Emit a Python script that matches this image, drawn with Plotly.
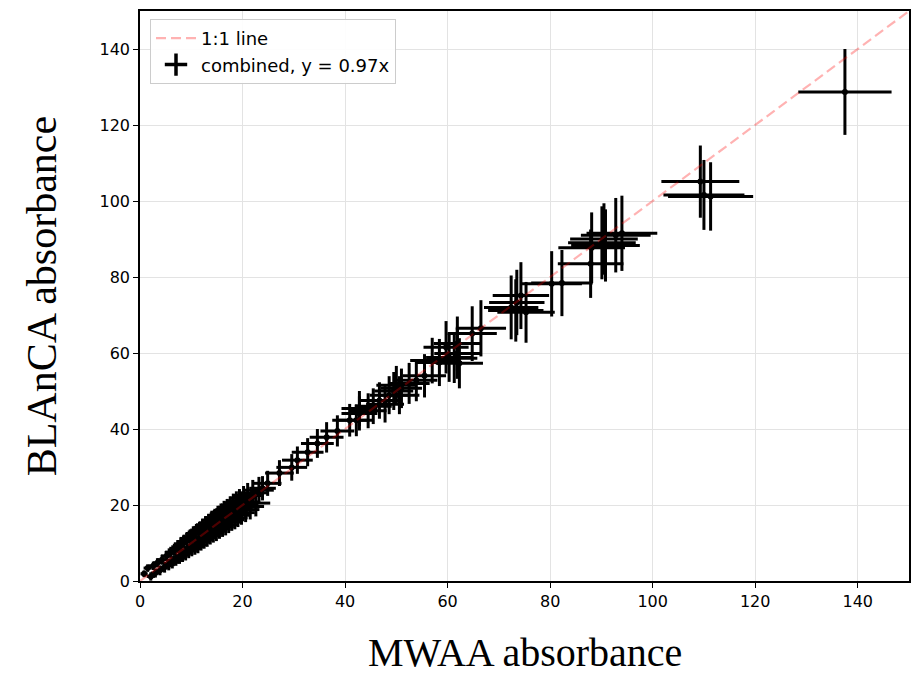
import plotly.graph_objects as go

# MWAA absorbance (x), BLAnCA absorbance (y) and their uncertainties
mwaa = [0.8, 1.5, 2.1, 2.6, 3.0, 3.4, 3.9, 4.3, 4.8, 5.2, 5.6, 6.0, 6.3, 6.7, 7.0, 7.4,
        7.7, 8.0, 8.3, 8.6, 8.9, 9.2, 9.5, 9.8, 10.1, 10.4, 10.7, 11.0, 11.3, 11.6, 11.9,
        12.2, 12.5, 12.8, 13.1, 13.4, 13.7, 14.0, 14.3, 14.6, 14.9, 15.2, 15.5, 15.8, 16.1,
        16.4, 16.7, 17.0, 17.3, 17.6, 17.9, 18.2, 18.5, 18.8, 19.1, 19.4, 19.8, 20.2, 20.6,
        21.0, 21.5, 22.0, 22.6, 23.2,
        23.9, 24.9, 27.2, 29.6, 30.7, 32.7, 34.6, 36.4, 38.5, 40.9, 42.8, 42.2, 42.8, 44.5,
        45.5, 46.7, 47.8, 48.6, 49.5, 50.0, 50.6, 51.0, 52.5, 53.9, 55.5, 57.0, 58.4, 60.3,
        62.3, 61.3, 61.9, 59.7, 61.9, 64.8, 66.5, 75.3,
        73.3, 72.4, 73.5, 74.3, 80.3, 82.3, 87.9, 88.1, 90.8, 90.1, 90.5, 92.8, 94.0,
        109.3, 110.0, 111.3, 137.5]
blanca = [1.9, 3.4, 1.2, 4.0, 2.1, 4.8, 2.8, 5.6, 3.6, 6.6, 4.3, 7.5, 4.9, 8.2, 5.6, 9.0,
          6.2, 9.8, 6.8, 10.4, 7.3, 11.0, 7.9, 11.6, 8.5, 12.3, 9.0, 12.9, 9.5, 13.4, 10.2,
          14.1, 10.8, 14.8, 11.4, 15.3, 12.0, 16.0, 12.6, 16.5, 13.1, 17.2, 13.7, 17.7, 14.3,
          18.3, 14.8, 18.8, 15.5, 19.4, 16.1, 20.0, 16.6, 20.6, 17.3, 21.1, 18.0, 21.8, 18.8,
          22.5, 19.6, 23.2, 20.5, 23.9,
          24.4, 25.7, 28.4, 29.9, 31.8, 33.9, 36.2, 37.8, 39.5, 42.3, 44.1, 42.3, 45.4, 44.8,
          46.0, 47.5, 46.5, 48.9, 50.0, 51.5, 48.9, 50.7, 52.0, 52.8, 54.0, 58.0, 57.5, 58.8,
          57.3, 58.6, 59.9, 61.5, 62.5, 65.1, 66.5, 70.7,
          71.2, 72.0, 73.3, 75.1, 78.2, 78.4, 83.5, 87.7, 88.3, 89.0, 90.0, 91.0, 91.5,
          105.1, 101.6, 101.2, 128.7]
mwaa_err = [0.7, 0.8, 0.8, 0.9, 0.9, 0.9, 1.0, 1.0, 1.1, 1.1, 1.2, 1.2, 1.2, 1.3, 1.3, 1.3,
            1.4, 1.4, 1.4, 1.5, 1.5, 1.5, 1.6, 1.6, 1.6, 1.6, 1.7, 1.7, 1.7, 1.8, 1.8,
            1.8, 1.9, 1.9, 1.9, 1.9, 2.0, 2.0, 2.0, 2.1, 2.1, 2.1, 2.2, 2.2, 2.2,
            2.2, 2.3, 2.3, 2.3, 2.4, 2.4, 2.4, 2.5, 2.5, 2.5, 2.5, 2.6, 2.6, 2.7,
            2.7, 2.7, 2.8, 2.8, 2.9,
            2.6, 2.7, 2.8, 3.0, 3.0, 3.1, 3.2, 3.3, 3.3, 3.4, 3.5, 3.4, 3.5, 3.6,
            3.6, 3.7, 3.7, 3.8, 3.8, 3.9, 3.9, 4.0, 4.0, 4.1, 4.2, 4.3, 4.4, 4.5,
            4.6, 4.5, 4.5, 4.4, 4.6, 4.8, 4.9, 5.6,
            5.4, 5.3, 5.4, 5.5, 5.9, 6.0, 6.4, 6.5, 6.7, 6.6, 6.6, 6.8, 6.9,
            7.6, 7.9, 8.3, 9.1]
blanca_err = [0.9, 1.0, 1.1, 1.1, 1.2, 1.2, 1.3, 1.3, 1.4, 1.4, 1.5, 1.5, 1.6, 1.6, 1.6, 1.7,
              1.7, 1.8, 1.8, 1.8, 1.9, 1.9, 1.9, 2.0, 2.0, 2.1, 2.1, 2.1, 2.2, 2.2, 2.2,
              2.3, 2.3, 2.3, 2.4, 2.4, 2.4, 2.5, 2.5, 2.5, 2.6, 2.6, 2.6, 2.7, 2.7,
              2.8, 2.8, 2.8, 2.9, 2.9, 2.9, 3.0, 3.0, 3.0, 3.1, 3.1, 3.2, 3.2, 3.3,
              3.3, 3.4, 3.4, 3.5, 3.5,
              3.2, 3.3, 3.4, 3.5, 3.6, 3.7, 3.8, 4.0, 4.1, 4.3, 4.5, 4.2, 4.6, 4.6,
              4.7, 4.8, 4.8, 5.0, 5.0, 5.1, 5.0, 5.2, 5.4, 5.5, 5.7, 6.0, 6.2, 6.4,
              6.6, 6.5, 6.7, 6.9, 7.1, 7.2, 7.4, 8.0,
              8.2, 8.4, 8.6, 8.8, 8.6, 8.7, 9.0, 9.3, 9.5, 9.6, 9.4, 9.8, 9.9,
              9.5, 9.2, 9.0, 11.3]

line_x = [0, 150]
line_y = [0, 150]

fig = go.Figure()

fig.add_trace(go.Scatter(
    x=mwaa, y=blanca, mode="markers",
    marker=dict(color="black", size=6),
    error_x=dict(type="data", array=mwaa_err, color="black", thickness=3, width=0),
    error_y=dict(type="data", array=blanca_err, color="black", thickness=3, width=0),
    showlegend=False, hoverinfo="skip"))

fig.add_trace(go.Scatter(
    x=line_x, y=line_y, mode="lines", name="1:1 line",
    line=dict(color="rgba(255,0,0,0.3)", width=2.2, dash="10px,5px"),
    legendrank=1))

fig.add_trace(go.Scatter(
    x=[None], y=[None], mode="markers", name="combined, y = 0.97x",
    marker=dict(symbol="cross-thin", size=18, color="black",
                line=dict(color="black", width=3.5)),
    legendrank=2))

axis_common = dict(
    range=[0, 150], tickvals=[0, 20, 40, 60, 80, 100, 120, 140],
    showline=True, mirror=True, linecolor="black", linewidth=1.5,
    ticks="outside", ticklen=5, tickwidth=1.2, tickcolor="black",
    showgrid=True, gridcolor="#e3e3e3", gridwidth=1, zeroline=False,
    tickfont=dict(family="DejaVu Sans", size=16, color="black"),
)

fig.update_layout(
    width=920, height=677,
    margin=dict(l=140, r=9, t=10, b=96),
    paper_bgcolor="white", plot_bgcolor="white",
    xaxis=axis_common, yaxis=axis_common,
    legend=dict(x=0.013, y=0.986, xanchor="left", yanchor="top",
                bgcolor="rgba(255,255,255,0.9)", bordercolor="#cccccc", borderwidth=1,
                font=dict(family="DejaVu Sans", size=18, color="black"),
                itemwidth=40),
    annotations=[
        dict(text="MWAA absorbance", xref="paper", yref="paper", x=0.5, y=-0.125,
             xanchor="center", yanchor="middle", showarrow=False,
             font=dict(family="Liberation Serif", size=40, color="black")),
        dict(text="BLAnCA absorbance", xref="paper", yref="paper", x=-0.127, y=0.5,
             xanchor="center", yanchor="middle", showarrow=False, textangle=-90,
             font=dict(family="Liberation Serif", size=42, color="black")),
    ],
)

fig.write_html("out.html")
